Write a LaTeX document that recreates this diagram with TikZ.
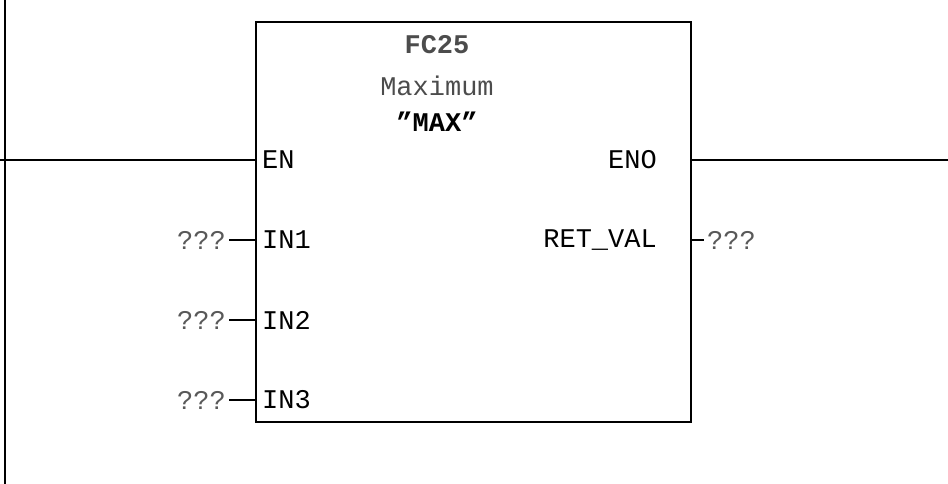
\documentclass[tikz,border=0pt]{standalone}
\usepackage{fontspec}
\setmonofont{Liberation Mono}
\tikzset{
  pin/.style={font=\fontsize{27pt}{27pt}\selectfont\ttfamily, inner sep=0pt},
  wire/.style={line width=1.5pt, black}
}
\begin{document}
\begin{tikzpicture}[x=1pt,y=-1pt]
  \useasboundingbox (0,0) rectangle (948,484);
  % rail and block
  \draw [wire] (5,0) -- (5,484);
  \draw [wire] (256,22) rectangle (691,422);
  \coordinate (blkL) at (256,160);
  \coordinate (blkR) at (691,160);
  \coordinate (railL) at (0,160);
  \coordinate (railR) at (948,160);
  \draw [wire] (railL) -- (blkL);
  \draw [wire] (blkR) -- (railR);
  % title
  \node [pin, font=\fontsize{27pt}{27pt}\selectfont\ttfamily\bfseries, text=black!70] (fc) at (437,45) {FC25};
  \node [pin, text=black!70] (name) at (437,86) {Maximum};
  \node [pin, font=\fontsize{27pt}{27pt}\selectfont\ttfamily\bfseries] (sym) at (437,122) {”MAX”};
  % pins
  \node [pin, anchor=west] (en) at (262,160) {EN};
  \node [pin, anchor=east] (eno) at (657,160) {ENO};
  \node [pin, anchor=west] (in1) at (262,240) {IN1};
  \node [pin, anchor=west] (in2) at (262,320) {IN2};
  \node [pin, anchor=west] (in3) at (262,400) {IN3};
  \node [pin, anchor=east] (ret) at (657,240) {RET\_VAL};
  % actual parameters
  \node [pin, anchor=east, text=black!65] (p1) at (226,240) {???};
  \node [pin, anchor=east, text=black!65] (p2) at (226,320) {???};
  \node [pin, anchor=east, text=black!65] (p3) at (226,400) {???};
  \node [pin, anchor=west, text=black!65] (pr) at (707,240) {???};
  \draw [wire] (p1.east) ++(3,0) -- (256,240);
  \draw [wire] (p2.east) ++(3,0) -- (256,320);
  \draw [wire] (p3.east) ++(3,0) -- (256,400);
  \draw [wire] (691,240) -- ([xshift=-3pt]pr.west);
\end{tikzpicture}
\end{document}
